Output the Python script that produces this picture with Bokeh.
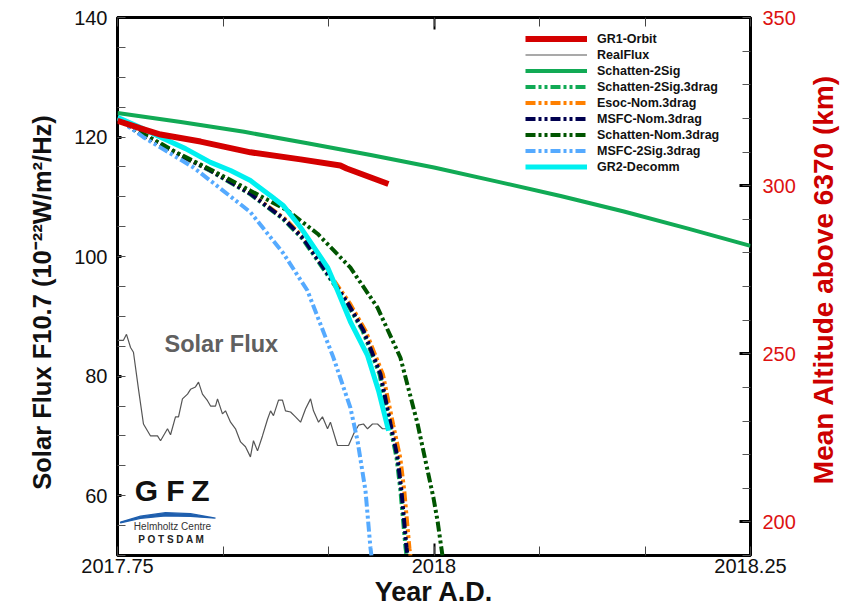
import math
from bokeh.plotting import figure
from bokeh.models import Range1d, LinearAxis, FixedTicker, Legend, LegendItem, Label, PolyAnnotation
from bokeh.embed import file_html
from bokeh.resources import INLINE

# ---------------- data ----------------
# GR1 orbit (mean altitude, km)
gr1_year = [2017.75, 2017.7682, 2017.784, 2017.8156, 2017.855, 2017.8946, 2017.926, 2017.931, 2017.964]
gr1_alt = [319.3, 317.0, 315.2, 313.1, 309.9, 307.8, 306.0, 305.1, 300.5]

# Real solar flux F10.7
flux_year = [2017.75, 2017.7547, 2017.7571, 2017.7603, 2017.7626, 2017.7666, 2017.7705, 2017.7761,
             2017.7816, 2017.784, 2017.7895, 2017.7919, 2017.7958, 2017.7982, 2017.8013, 2017.8053,
             2017.8077, 2017.8116, 2017.814, 2017.8171, 2017.8211, 2017.8235, 2017.8274, 2017.829,
             2017.8329, 2017.8353, 2017.8393, 2017.8432, 2017.8472, 2017.8511, 2017.855, 2017.8574,
             2017.8606, 2017.8645, 2017.8685, 2017.8709, 2017.8732, 2017.8772, 2017.8803, 2017.8827,
             2017.8867, 2017.8906, 2017.8946, 2017.8985, 2017.9025, 2017.9048, 2017.9088, 2017.9119,
             2017.9159, 2017.9182, 2017.9238, 2017.9285, 2017.9325, 2017.9364, 2017.9404, 2017.9443,
             2017.9475, 2017.9514, 2017.9554, 2017.9593, 2017.9633]
flux_val = [86.0, 86.0, 87.0, 84.8, 84.0, 77.8, 72.0, 70.0,
            70.0, 69.2, 71.2, 70.2, 73.2, 73.2, 76.2, 77.0,
            77.8, 78.2, 79.0, 77.0, 75.9, 75.0, 75.0, 76.2,
            73.7, 74.2, 72.3, 71.2, 69.0, 68.2, 66.5, 69.2,
            67.5, 70.0, 72.8, 74.2, 73.4, 76.0, 76.0, 74.2,
            74.0, 73.2, 72.3, 74.5, 76.2, 74.2, 72.3, 73.2,
            71.2, 72.3, 68.4, 68.4, 68.4, 70.3, 71.8, 72.0,
            71.2, 72.0, 72.0, 71.2, 71.2]

# Schatten-2Sig (solid)
s2s_year = [2017.75, 2017.80, 2017.85, 2017.90, 2017.95, 2018.00, 2018.05, 2018.10, 2018.15, 2018.20, 2018.25]
s2s_alt = [321.6, 318.9, 316.0, 312.6, 309.1, 305.4, 301.2, 296.9, 292.3, 287.3, 282.1]

# Schatten-2Sig.3drag
s2s3_year = [2017.75, 2017.7700, 2017.7950, 2017.8227, 2017.8542, 2017.8803, 2017.8961, 2017.9151,
             2017.9309, 2017.9435, 2017.9569, 2017.9648, 2017.9704, 2017.9735, 2017.9775, 2017.9783]
s2s3_alt = [319.9, 314.9, 309.8, 304.5, 297.6, 290.2, 284.2, 273.8, 265.2, 256.9, 244.0, 229.2, 219.1,
            209.2, 192.3, 189.9]

# Esoc-Nom.3drag
esoc_year = [2017.75, 2017.7705, 2017.7962, 2017.8243, 2017.856, 2017.8823, 2017.8983, 2017.9175,
             2017.9335, 2017.9461, 2017.9597, 2017.9677, 2017.9734, 2017.9766, 2017.9806, 2017.9814]
esoc_alt = [319.9, 314.9, 309.7, 304.4, 297.5, 290.1, 284.1, 273.7, 265.0, 256.7, 243.8, 229.0, 218.9,
            209.0, 192.1, 189.9]

# MSFC-Nom.3drag
msfc_year = [2017.75, 2017.7705, 2017.7958, 2017.8235, 2017.855, 2017.8811, 2017.8969, 2017.9159,
             2017.9317, 2017.9443, 2017.9577, 2017.9656, 2017.9712, 2017.9743, 2017.9783, 2017.9791]
msfc_alt = [319.9, 314.9, 309.8, 304.5, 297.6, 290.2, 284.2, 273.8, 265.2, 256.9, 244.0, 229.2, 219.1,
            209.2, 192.3, 189.9]

# Schatten-Nom.3drag
snom_year = [2017.75, 2017.7958, 2017.8235, 2017.855, 2017.8843, 2017.908, 2017.934, 2017.9554,
             2017.9735, 2017.987, 2017.9996, 2018.0028, 2018.0067]
snom_alt = [319.9, 310.0, 304.8, 298.5, 292.6, 285.7, 275.6, 263.7, 248.8, 229.2, 207.1, 200.3, 189.9]

# MSFC-2Sig.3drag
m2s_year = [2017.75, 2017.7705, 2017.81, 2017.8314, 2017.855, 2017.8811, 2017.9, 2017.9206,
            2017.934, 2017.9396, 2017.9459, 2017.9498, 2017.9506]
m2s_alt = [319.9, 314.4, 305.4, 299.1, 292.1, 279.8, 268.8, 248.8, 233.9, 224.1, 209.2, 192.3, 189.9]

# GR2-Decomm
gr2_year = [2017.75, 2017.7682, 2017.784, 2017.8037, 2017.8235, 2017.8393, 2017.855, 2017.8709,
            2017.8811, 2017.8946, 2017.9159, 2017.9238, 2017.934, 2017.9475, 2017.9562, 2017.9641]
gr2_alt = [320.3, 317.3, 314.4, 311.0, 306.9, 304.5, 301.5, 297.0, 294.0, 287.6, 275.7, 268.8,
           259.5, 249.5, 239.0, 227.1]

# axes ticks / labels
x_ticks = [2017.75, 2018.0, 2018.25]
x_tick_labels = ["2017.75", "2018", "2018.25"]
x_minor = [2017.75 + i / 12 for i in range(7)]
flux_ticks = [60, 80, 100, 120, 140]
flux_minor = list(range(50, 141, 5))
alt_ticks = [200, 250, 300, 350]
alt_minor = list(range(190, 351, 10))

# ---------------- figure ----------------
FONT = "Liberation Sans"
p = figure(width=842, height=612, output_backend="svg", toolbar_location=None,
           x_range=Range1d(2017.75, 2018.25), y_range=Range1d(50, 140),
           min_border_left=117, min_border_right=92, min_border_top=17, min_border_bottom=57,
           background_fill_color="white", border_fill_color="white")
p.extra_y_ranges = {"alt": Range1d(190, 350)}
p.xgrid.visible = False
p.ygrid.visible = False
p.outline_line_color = "black"
p.outline_line_width = 3
p.outline_line_alpha = 1.0

# bottom axis
xa = p.xaxis[0]
xa.ticker = FixedTicker(ticks=x_ticks, minor_ticks=x_minor)
xa.major_label_overrides = {t: l for t, l in zip(x_ticks, x_tick_labels)}
xa.axis_line_color = None
xa.major_tick_in = 12
xa.major_tick_out = 0
xa.major_tick_line_width = 2
xa.minor_tick_in = 9
xa.minor_tick_out = 0
xa.minor_tick_line_color = "#444444"
xa.major_label_standoff = 3
xa.major_label_text_font = FONT
xa.major_label_text_font_size = "20px"
xa.major_label_text_color = "#111111"
xa.axis_label = "Year A.D."
xa.axis_label_text_font = FONT
xa.axis_label_text_font_style = "bold"
xa.axis_label_text_font_size = "27px"
xa.axis_label_text_color = "#111111"
xa.axis_label_standoff = 1

# top mirrored ticks (no labels)
ta = LinearAxis(ticker=FixedTicker(ticks=x_ticks, minor_ticks=x_minor))
ta.axis_line_color = None
ta.major_tick_in = 12
ta.major_tick_out = 0
ta.major_tick_line_width = 2
ta.minor_tick_in = 9
ta.minor_tick_out = 0
ta.minor_tick_line_color = "#444444"
ta.major_label_overrides = {t: "" for t in x_ticks}
ta.major_label_standoff = 0
p.add_layout(ta, "above")

# left axis (its title is drawn as a separate label)
ya = p.yaxis[0]
ya.ticker = FixedTicker(ticks=flux_ticks, minor_ticks=flux_minor)
ya.axis_line_color = None
ya.major_tick_in = 4
ya.major_tick_out = 0
ya.major_tick_line_width = 3
ya.minor_tick_in = 8
ya.minor_tick_out = 0
ya.minor_tick_line_color = "#555555"
ya.major_label_standoff = 10
ya.major_label_text_font = FONT
ya.major_label_text_font_size = "20px"
ya.major_label_text_color = "#111111"

# right axis (its title is drawn as a separate label reading bottom-to-top)
ra = LinearAxis(y_range_name="alt", ticker=FixedTicker(ticks=alt_ticks, minor_ticks=alt_minor))
ra.axis_line_color = None
ra.major_tick_in = 11
ra.major_tick_out = 0
ra.major_tick_line_width = 3
ra.minor_tick_in = 8
ra.minor_tick_out = 0
ra.minor_tick_line_color = "#555555"
ra.major_label_standoff = 12
ra.major_label_text_font = FONT
ra.major_label_text_font_size = "20px"
ra.major_label_text_color = "#dd1111"
p.add_layout(ra, "right")

DASH = "10 3 3 3 3 3"
r_flux = p.line(flux_year, flux_val, line_color="#555555", line_width=1.2)
r_s2s = p.line(s2s_year, s2s_alt, y_range_name="alt", line_color="#11aa55", line_width=4)
r_s2s3 = p.line(s2s3_year, s2s3_alt, y_range_name="alt", line_color="#11aa55", line_width=4, line_dash=DASH)
r_esoc = p.line(esoc_year, esoc_alt, y_range_name="alt", line_color="#ff8000", line_width=4, line_dash=DASH)
r_msfc = p.line(msfc_year, msfc_alt, y_range_name="alt", line_color="#000050", line_width=4, line_dash=DASH)
r_snom = p.line(snom_year, snom_alt, y_range_name="alt", line_color="#005500", line_width=4, line_dash=DASH)
r_m2s = p.line(m2s_year, m2s_alt, y_range_name="alt", line_color="#55aaff", line_width=4, line_dash=DASH)
r_gr2 = p.line(gr2_year, gr2_alt, y_range_name="alt", line_color="#00f0f0", line_width=5)
r_gr1 = p.line(gr1_year, gr1_alt, y_range_name="alt", line_color="#d40000", line_width=6)

legend = Legend(items=[
    LegendItem(label="GR1-Orbit", renderers=[r_gr1]),
    LegendItem(label="RealFlux", renderers=[r_flux]),
    LegendItem(label="Schatten-2Sig", renderers=[r_s2s]),
    LegendItem(label="Schatten-2Sig.3drag", renderers=[r_s2s3]),
    LegendItem(label="Esoc-Nom.3drag", renderers=[r_esoc]),
    LegendItem(label="MSFC-Nom.3drag", renderers=[r_msfc]),
    LegendItem(label="Schatten-Nom.3drag", renderers=[r_snom]),
    LegendItem(label="MSFC-2Sig.3drag", renderers=[r_m2s]),
    LegendItem(label="GR2-Decomm", renderers=[r_gr2]),
], location=(408, 381))
legend.border_line_color = None
legend.background_fill_alpha = 0
legend.padding = 0
legend.margin = 0
legend.spacing = 1
legend.glyph_width = 62
legend.glyph_height = 15
legend.label_height = 15
legend.label_standoff = 10
legend.label_text_font = FONT
legend.label_text_font_style = "bold"
legend.label_text_font_size = "12.5px"
legend.label_text_color = "#111111"
p.add_layout(legend, "center")

# ---------------- annotations ----------------
def fx(px):
    return 2017.75 + (px - 117) / 1266.0


def fy(py):
    return 140 - (py - 17) / 6.0


p.add_layout(Label(x=fx(41), y=fy(303), text="Solar Flux F10.7 (10\u207b\u00b2\u00b2W/m\u00b2/Hz)",
                   angle=math.pi / 2, text_font=FONT, text_font_style="bold", text_font_size="25.5px",
                   text_color="#111111", text_align="center", text_baseline="middle"), "left")

p.add_layout(Label(x=fx(823), y=fy(280), text="Mean Altitude above 6370 (km)", angle=math.pi / 2,
                   text_font=FONT, text_font_style="bold", text_font_size="28px",
                   text_color="#cc0000", text_align="center", text_baseline="middle"), "right")

p.add_layout(Label(x=fx(164), y=fy(345), text="Solar Flux", text_font=FONT, text_font_style="bold",
                   text_font_size="23.5px", text_color="#606060", text_baseline="middle"))

for ch, cx in (("G", 146), ("F", 175), ("Z", 200)):
    p.add_layout(Label(x=fx(cx), y=fy(492), text=ch, text_font=FONT, text_font_style="bold",
                       text_font_size="30px", text_color="#111111", text_align="center",
                       text_baseline="middle"))

arc_px = [(120, 523.5), (140, 517.5), (165, 514.0), (190, 515.0), (215, 519.5),
          (190, 517.8), (165, 517.3), (140, 519.7), (120, 524.3)]
p.add_layout(PolyAnnotation(xs=[fx(a) for a, b in arc_px], ys=[fy(b) for a, b in arc_px],
                            fill_color="#1f5fae", fill_alpha=1.0, line_color="#1f5fae",
                            line_alpha=1.0, line_width=1.2))
p.add_layout(Label(x=fx(172), y=fy(528), text="Helmholtz Centre", text_font=FONT,
                   text_font_size="10px", text_color="#333333", text_align="center",
                   text_baseline="middle"))
p.add_layout(Label(x=fx(171), y=fy(541), text="P O T S D A M", text_font=FONT, text_font_style="bold",
                   text_font_size="10px", text_color="#222222", text_align="center",
                   text_baseline="middle"))

open("out.html", "w").write(file_html(p, INLINE))
